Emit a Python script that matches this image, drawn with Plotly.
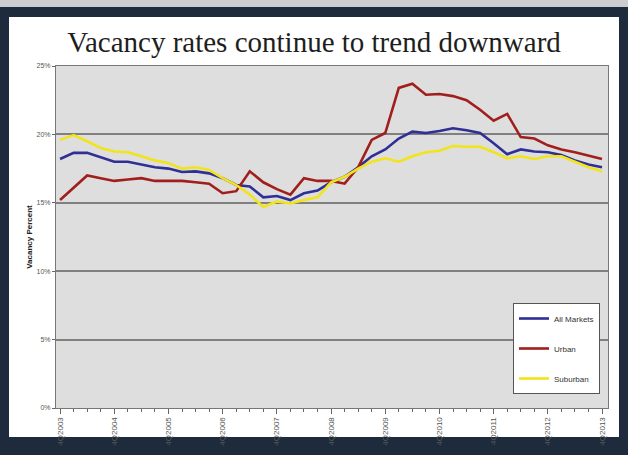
import plotly.graph_objects as go

quarters = [f"{q}Q{y}" for y in range(2003, 2014) for q in (1, 2, 3, 4)][3:44]
tick_labels = [f"4Q{y}" for y in range(2003, 2014)]

all_markets = [18.2, 18.65, 18.65, 18.3, 18.0, 18.0, 17.8, 17.6, 17.5, 17.25,
               17.3, 17.15, 16.8, 16.3, 16.2, 15.4, 15.5, 15.2, 15.7, 15.9,
               16.5, 16.9, 17.6, 18.4, 18.9, 19.7, 20.2, 20.1, 20.25, 20.45,
               20.3, 20.1, 19.35, 18.55, 18.9, 18.75, 18.7, 18.5, 18.1, 17.8, 17.6]
urban = [15.2, 16.1, 17.0, 16.8, 16.6, 16.7, 16.8, 16.6, 16.6, 16.6,
         16.5, 16.4, 15.7, 15.85, 17.3, 16.5, 16.0, 15.6, 16.8, 16.6,
         16.6, 16.4, 17.6, 19.6, 20.1, 23.4, 23.7, 22.9, 22.95, 22.8,
         22.5, 21.8, 21.0, 21.5, 19.8, 19.7, 19.2, 18.9, 18.7, 18.45, 18.2]
suburban = [19.6, 19.95, 19.5, 19.0, 18.75, 18.7, 18.4, 18.1, 17.9, 17.5,
            17.6, 17.4, 16.8, 16.3, 15.6, 14.7, 15.1, 14.95, 15.2, 15.4,
            16.5, 16.9, 17.5, 18.0, 18.25, 18.0, 18.4, 18.7, 18.8, 19.15,
            19.1, 19.1, 18.7, 18.25, 18.4, 18.2, 18.4, 18.4, 18.0, 17.6, 17.3]

W, H = 628, 455
L, R, T, B = 56, 20, 66, 47
pw, ph = W - L - R, H - T - B

def px(xp):
    return (xp - L) / pw

def py(yp):
    return (H - B - yp) / ph

x = list(range(len(quarters)))
tickvals = [i for i, q in enumerate(quarters) if q.startswith("4Q")]

fig = go.Figure()
series = [("All Markets", all_markets, "#2f2f96"),
          ("Urban", urban, "#a01f1c"),
          ("Suburban", suburban, "#f2e41a")]
for name, vals, col in series:
    fig.add_trace(go.Scatter(x=x, y=vals, mode="lines", name=name,
                             legendgroup=name,
                             line=dict(color=col, width=2.6),
                             hovertext=quarters))

shapes = [
    dict(type="rect", xref="paper", yref="paper", layer="below",
         x0=px(0), x1=px(W), y0=py(7), y1=py(0),
         fillcolor="#cdcdcf", line=dict(width=0)),
    dict(type="rect", xref="paper", yref="paper", layer="below",
         x0=px(9), x1=px(619), y0=py(437), y1=py(17),
         fillcolor="#ffffff", line=dict(width=0)),
    dict(type="rect", xref="paper", yref="paper", layer="below",
         x0=0, x1=1, y0=0, y1=1,
         fillcolor="#dedede", line=dict(width=0)),
]

fig.update_layout(
    width=W, height=H,
    margin=dict(l=L, r=R, t=T, b=B, pad=0),
    paper_bgcolor="#1d2b3c",
    plot_bgcolor="rgba(0,0,0,0)",
    shapes=shapes,
    title=dict(text="Vacancy rates continue to trend downward",
               x=0.5, xanchor="center", xref="container",
               y=1 - 42 / H, yanchor="middle", yref="container",
               font=dict(family="Liberation Serif", size=29, color="#1e1e1e")),
    showlegend=True,
    legend=dict(x=px(513), y=py(303), xanchor="left", yanchor="top",
                bgcolor="#ffffff", bordercolor="#555555", borderwidth=1,
                font=dict(family="Liberation Sans Narrow, Liberation Sans", size=8, color="#333"),
                tracegroupgap=11, itemwidth=30),
    xaxis=dict(range=[-0.3, 40.44], tickvals=tickvals, ticktext=tick_labels,
               tickangle=-90, ticks="outside", ticklen=5, tickcolor="#666",
               minor=dict(dtick=1, tick0=0, ticks="outside", ticklen=3, tickcolor="#666"),
               showgrid=False, zeroline=False, automargin=False,
               showline=True, linecolor="#777", linewidth=1, mirror=True,
               tickfont=dict(family="Liberation Sans", size=8, color="#555")),
    yaxis=dict(range=[0, 25], dtick=5, ticksuffix="%", automargin=False,
               showgrid=True, gridcolor="#808080", gridwidth=1.5,
               zeroline=False, ticks="outside", ticklen=3, tickcolor="#666",
               showline=True, linecolor="#777", linewidth=1, mirror=True,
               tickfont=dict(family="Liberation Sans", size=7, color="#555"),
               title=dict(text="<b>Vacancy Percent</b>", standoff=2,
                          font=dict(family="Liberation Sans", size=8, color="#222"))),
)

fig.write_html("out.html")
